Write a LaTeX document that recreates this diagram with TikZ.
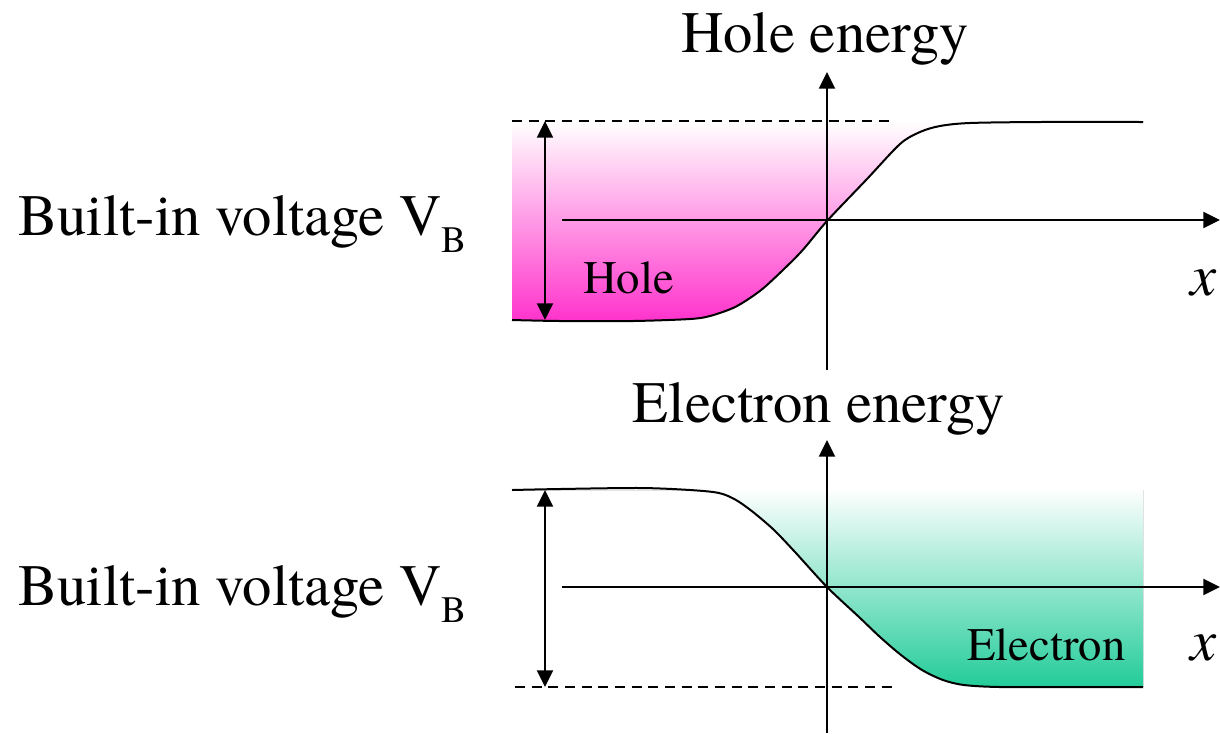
\documentclass[tikz,border=0pt]{standalone}
\usepackage{fontspec}
\setmainfont{texgyretermes}[Extension=.otf,UprightFont=*-regular,ItalicFont=*-italic,BoldFont=*-bold]
\newfontfamily\tnr{texgyretermes}[Extension=.otf,UprightFont=*-regular,ItalicFont=*-italic,BoldFont=*-bold]
\usetikzlibrary{arrows.meta}
\definecolor{holecol}{RGB}{255,51,204}
\definecolor{eleccol}{RGB}{34,204,153}
\tikzset{
  axis/.style={line width=1.5pt,-{Triangle[length=12.5pt,width=12pt]}},
  span/.style={line width=1.5pt,{Triangle[length=12.5pt,width=12pt]}-{Triangle[length=12.5pt,width=12pt]}},
  level/.style={line width=1.3pt,dash pattern=on 7.5pt off 5pt},
  band/.style={line width=1.5pt},
  big/.style={inner sep=0pt,font=\tnr\fontsize{44}{52}\selectfont},
  mid/.style={inner sep=0pt,font=\tnr\fontsize{35}{42}\selectfont},
}
\begin{document}
\begin{tikzpicture}[x=0.75pt,y=-0.75pt]
\useasboundingbox (0,0) rectangle (1220,733);
% ---------- top (hole) ----------
\fill[top color=white,middle color=holecol!45,bottom color=holecol]
  (512,121) -- (1143,121) -- plot[smooth] coordinates {(1143,122) (1040,122) (970,123) (940,126) (920,132) (900,144) (867,179) (827,221) (800,253) (767,285) (750,298) (733,308) (710,316) (690,319) (633,321) (560,321) (512,320)} -- cycle;
\draw[band] plot[smooth] coordinates {(512,320) (560,321) (633,321) (690,319) (710,316) (733,308) (750,298) (767,285) (800,253) (827,221) (867,179) (900,144) (920,132) (940,126) (970,123) (1040,122) (1143,122)};
\coordinate (tvb) at (827,370);
\coordinate (tvt) at (827,72);
\coordinate (thl) at (562,220);
\coordinate (thr) at (1220,220);
\coordinate (tdl) at (512,121);
\coordinate (tdr) at (895,121);
\coordinate (tat) at (545,121);
\coordinate (tab) at (545,320);
\draw[axis] (tvb) -- (tvt);
\draw[axis] (thl) -- (thr);
\draw[level] (tdl) -- (tdr);
\draw[span] (tab) -- (tat);
\node[big,anchor=base] (tt) at (825,52) {Hole energy};
\node[big,anchor=base west] (tv) at (18,235) {Built-in voltage V\raisebox{-12.75pt}{\fontsize{28}{32}\selectfont B}};
\node[mid,anchor=base west] (th) at (583,293) {Hole};
\node[big,anchor=base west] (tx) at (1190,295) {\textit{x}};
% ---------- bottom (electron) ----------
\fill[top color=white,middle color=eleccol!40,bottom color=eleccol]
  plot[smooth] coordinates {(512,490) (560,489) (640,488) (690,490) (719,493) (736,500) (753,512) (774,530) (795,552) (827,587) (859,617) (880,637) (901,655) (922,670) (943,680) (964,685) (1000,687) (1080,687) (1143,687)} -- (1143,490) -- cycle;
\draw[band] plot[smooth] coordinates {(512,490) (560,489) (640,488) (690,490) (719,493) (736,500) (753,512) (774,530) (795,552) (827,587) (859,617) (880,637) (901,655) (922,670) (943,680) (964,685) (1000,687) (1080,687) (1143,687)};
\coordinate (bvb) at (827,733);
\coordinate (bvt) at (827,440);
\coordinate (bhl) at (562,587);
\coordinate (bhr) at (1220,587);
\coordinate (bdl) at (515,687);
\coordinate (bdr) at (895,687);
\coordinate (bat) at (545,490);
\coordinate (bab) at (545,687);
\draw[axis] (bvb) -- (bvt);
\draw[axis] (bhl) -- (bhr);
\draw[level] (bdl) -- (bdr);
\draw[span] (bab) -- (bat);
\node[big,anchor=base] (bt) at (819,422) {Electron energy};
\node[big,anchor=base west] (bv) at (18,605) {Built-in voltage V\raisebox{-12.75pt}{\fontsize{28}{32}\selectfont B}};
\node[mid,anchor=base west] (be) at (967,660) {Electron};
\node[big,anchor=base west] (bx) at (1190,660) {\textit{x}};
\end{tikzpicture}
\end{document}
